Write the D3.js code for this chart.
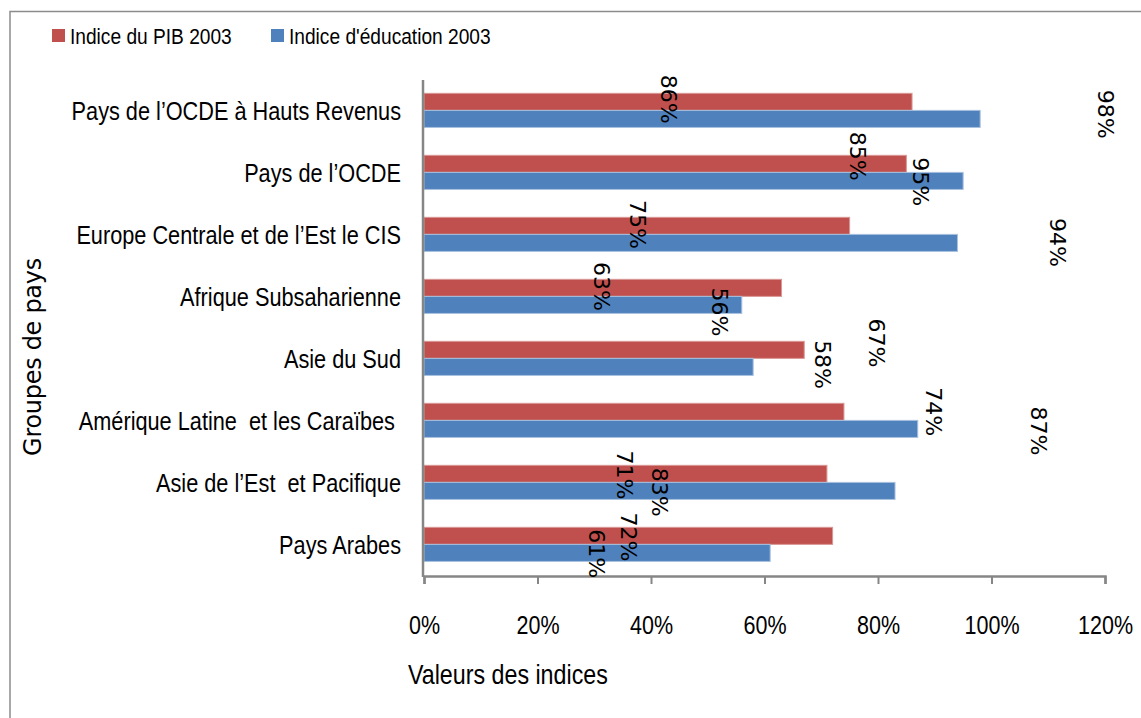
<!DOCTYPE html>
<html>
<head>
<meta charset="utf-8">
<script src="https://cdn.jsdelivr.net/npm/d3@7"></script>
<style>
  body { margin: 0; background: #fff; }
  text { fill: #000; }
  .cond { font-family: "Liberation Sans", Arial, sans-serif; }
  .dejavu { font-family: "DejaVu Sans", sans-serif; }
</style>
</head>
<body>
<div id="chart"></div>
<script>
// categories, top to bottom
const categories = [
  "Pays de l\u2019OCDE à Hauts Revenus",
  "Pays de l\u2019OCDE",
  "Europe Centrale et de l\u2019Est le CIS",
  "Afrique Subsaharienne",
  "Asie du Sud",
  "Amérique Latine  et les Caraïbes ",
  "Asie de l\u2019Est  et Pacifique",
  "Pays Arabes"
];
const seriesNames = ["Indice du PIB 2003", "Indice d'éducation 2003"];
const pibValues = [86, 85, 75, 63, 67, 74, 71, 72];
const eduValues = [98, 95, 94, 56, 58, 87, 83, 61];
const xTicks = [0, 20, 40, 60, 80, 100, 120];

// where the value labels sit in the original: [value on x axis, fraction of band]
const pibLabelAt = [[43.1, 0.31], [76.3, 0.23], [37.6, 0.33], [31.3, 0.33],
                    [79.7, 0.24], [89.8, 0.35], [35.4, 0.37], [36.1, 0.37]];
const eduLabelAt = [[120.1, 0.55], [87.5, 0.64], [111.7, 0.62], [52.1, 0.74],
                    [70.2, 0.59], [108.2, 0.66], [41.5, 0.65], [30.4, 0.64]];

const colors = ["#C0504D", "#4F81BD"];
const edges = ["#D99795", "#A7C0DE"];

const W = 1141, H = 718;
const svg = d3.select("#chart").append("svg")
    .attr("width", W)
    .attr("height", H);

// pas de police étroite installée : on resserre le texte
function squeeze(sel, k) {
  sel.each(function() {
    const w = this.getComputedTextLength();
    d3.select(this)
      .attr("textLength", w * k)
      .attr("lengthAdjust", "spacingAndGlyphs");
  });
}

// cadre
svg.append("path")
    .attr("d", `M10,${H + 5} V11.5 H${W + 5}`)
    .attr("fill", "none")
    .attr("stroke", "#8c8c8c")
    .attr("stroke-width", 1.5);

const x = d3.scaleLinear().domain([0, 120]).range([424, 1105]);
const y = d3.scaleBand().domain(categories).range([80, 576]);
const bw = y.bandwidth();
const sub = d3.scaleBand().domain([0, 1]).range([bw * 0.215, bw * 0.765]);

const rows = categories.map((c, i) => ({ cat: c, vals: [pibValues[i], eduValues[i]] }));

// barres
const g = svg.append("g");
rows.forEach(r => {
  r.vals.forEach((v, s) => {
    g.append("rect")
      .attr("x", x(0))
      .attr("y", y(r.cat) + sub(s))
      .attr("width", x(v) - x(0))
      .attr("height", sub.bandwidth())
      .attr("fill", colors[s])
      .attr("stroke", edges[s])
      .attr("stroke-width", 1);
  });
});

// axe des valeurs
const xAxis = svg.append("g")
    .attr("transform", "translate(0,576)")
    .call(d3.axisBottom(x).tickValues(xTicks).tickFormat(d => d + "%").tickSize(8).tickPadding(32));
xAxis.select(".domain").attr("stroke", "#868686").attr("stroke-width", 2.5);
xAxis.selectAll(".tick line").attr("stroke", "#868686").attr("stroke-width", 2);
xAxis.selectAll(".tick text")
    .attr("class", "cond")
    .style("font-size", "25px")
    .attr("fill", "#000")
    .call(squeeze, 0.86);

// axe des catégories
svg.append("line")
    .attr("x1", x(0) - 1).attr("x2", x(0) - 1)
    .attr("y1", 80).attr("y2", 577)
    .attr("stroke", "#868686")
    .attr("stroke-width", 2.5);

svg.append("g").selectAll("text")
    .data(categories)
    .enter().append("text")
    .attr("class", "cond")
    .attr("x", 401)
    .attr("y", d => y(d) + bw / 2)
    .attr("dy", ".35em")
    .attr("text-anchor", "end")
    .style("font-size", "26px")
    .style("white-space", "pre")
    .text(d => d)
    .call(squeeze, 0.835);

// étiquettes de valeurs (verticales)
const labels = [];
rows.forEach((r, i) => {
  labels.push({ v: pibValues[i], at: pibLabelAt[i], cat: r.cat });
  labels.push({ v: eduValues[i], at: eduLabelAt[i], cat: r.cat });
});
svg.append("g").selectAll("text")
    .data(labels)
    .enter().append("text")
    .attr("class", "dejavu")
    .attr("text-anchor", "middle")
    .attr("dominant-baseline", "central")
    .style("font-size", "22px")
    .attr("transform", d => `translate(${x(d.at[0])},${y(d.cat) + bw * d.at[1]}) rotate(90)`)
    .text(d => d.v + "%");

// titres des axes
svg.append("text")
    .attr("class", "cond")
    .attr("x", 408)
    .attr("y", 684)
    .style("font-size", "28px")
    .text("Valeurs des indices")
    .call(squeeze, 0.83);

svg.append("text")
    .attr("class", "dejavu")
    .attr("transform", "translate(41,357) rotate(-90)")
    .attr("text-anchor", "middle")
    .style("font-size", "24px")
    .style("letter-spacing", "-0.3px")
    .text("Groupes de pays");

// légende
const legendX = [52, 271];
seriesNames.forEach((n, s) => {
  svg.append("rect")
    .attr("x", legendX[s]).attr("y", 29)
    .attr("width", 13).attr("height", 13)
    .attr("fill", colors[s]);
  svg.append("text")
    .attr("class", "cond")
    .attr("x", legendX[s] + 18)
    .attr("y", 44)
    .style("font-size", "22px")
    .text(n)
    .call(squeeze, 0.87);
});
</script>
</body>
</html>
